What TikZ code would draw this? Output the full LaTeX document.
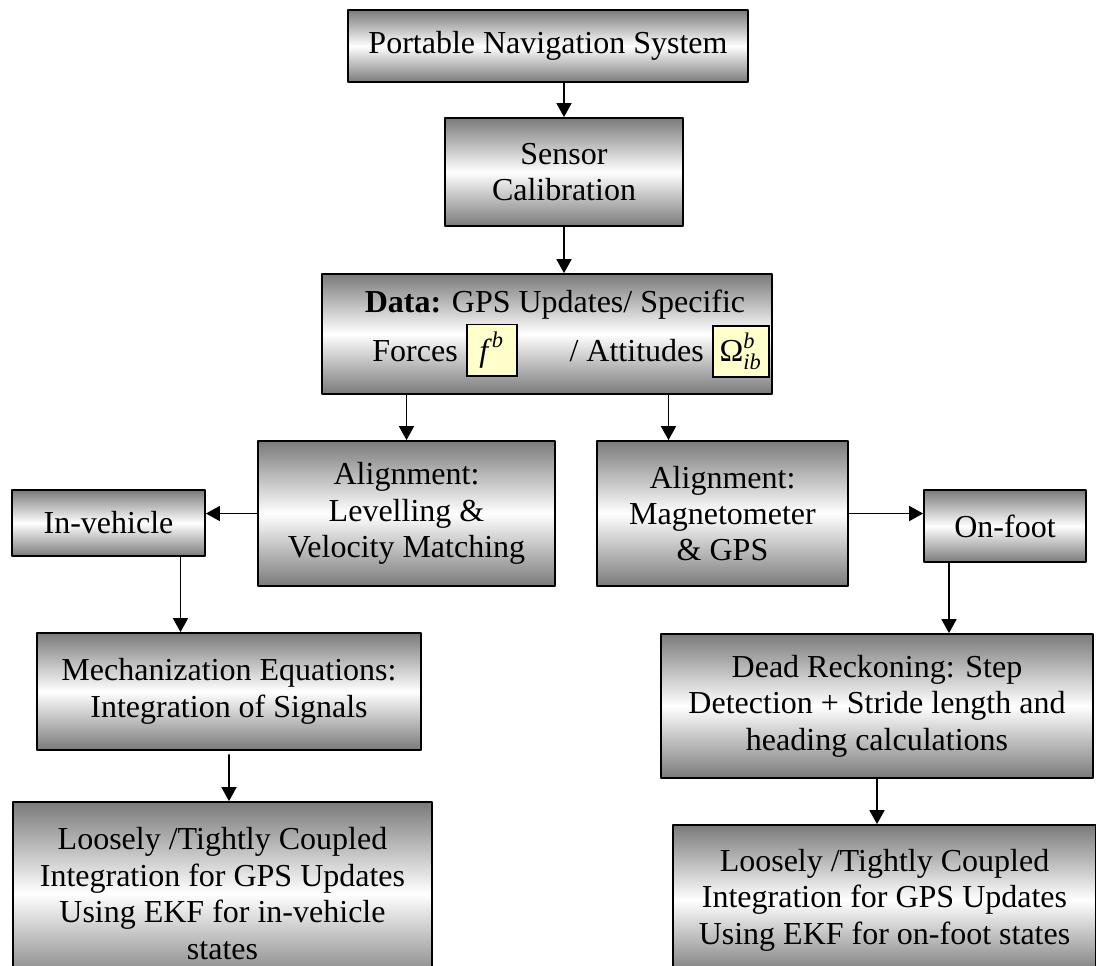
\documentclass[tikz,border=0pt]{standalone}
\usepackage{fontspec}
\usepackage{amsmath}
\setmainfont{Liberation Serif}
\usetikzlibrary{arrows.meta}

\definecolor{hlyellow}{HTML}{FFFFCC}
\newcommand{\hlbox}[1]{{\setlength{\fboxsep}{3pt}\setlength{\fboxrule}{0.9pt}\fcolorbox{black}{hlyellow}{\rule[-4pt]{0pt}{16pt}#1}}}

\begin{document}
\begin{tikzpicture}[x=0.5pt, y=-0.5pt, line cap=round, line join=round,
  blk/.style={draw=black, line width=0.9pt, rectangle, inner sep=0pt,
    align=center, top color=black!52, bottom color=black!52, middle color=white,
    font=\fontsize{16pt}{18.2pt}\selectfont},
  arr/.style={line width=0.85pt, -{Triangle[length=7pt,width=7.5pt]}}]

% Frame (bottom boxes run past the lower edge)
\useasboundingbox (0,0) rectangle (1096,965);
\clip (0,0) rectangle (1096,965);

% --- Top chain ---
\node[blk, minimum width=200pt, minimum height=36pt] (pns) at (548,46) {Portable Navigation System};
\node[blk, minimum width=119pt, minimum height=54pt] (calib) at (564,172) {Sensor\\Calibration};
\node[blk, minimum width=225pt, minimum height=60pt] (data) at (547,334)
  {\hspace*{8pt}\textbf{Data:} GPS Updates/ Specific\\[1pt]
   \hspace*{24pt}Forces \hlbox{$\,\textit{f}^{\,\textit{b}}\,$}\hspace{22pt} / Attitudes \hlbox{$\textrm{Ω}^{\textit{b}}_{\textit{ib}}$}};

% --- Alignment ---
\node[blk, minimum width=148.5pt, minimum height=72.5pt] (alignL) at (406.5,513.5) {Alignment:\\Levelling \&\\Velocity Matching};
\node[blk, minimum width=125.5pt, minimum height=72.5pt] (alignR) at (722.5,513.5) {Alignment:\\Magnetometer\\\& GPS};

% --- Modes ---
\node[blk, minimum width=96.5pt, minimum height=33pt] (vehicle) at (108.5,523) {In-vehicle};
\node[blk, minimum width=81pt, minimum height=36pt] (foot) at (1005,526) {On-foot};

% --- Processing ---
\node[blk, minimum width=192pt, minimum height=58.5pt] (mech) at (229,691.5) {Mechanization Equations:\\Integration of Signals};
\node[blk, minimum width=216pt, minimum height=72pt] (dead) at (877,706) {Dead Reckoning: Step\\Detection + Stride length and\\heading calculations};

% --- Integration ---
\node[blk, minimum width=209.5pt, minimum height=91.5pt] (looseV) at (222.5,893.5) {Loosely /Tightly Coupled\\Integration for GPS Updates\\Using EKF for in-vehicle\\states};
\node[blk, minimum width=211.5pt, minimum height=75pt] (looseF) at (884.5,900) {Loosely /Tightly Coupled\\Integration for GPS Updates\\Using EKF for on-foot states};

% --- Connectors ---
\coordinate (rtop) at ([xshift=-27pt]alignR.north);
\coordinate (vdrop) at ([xshift=36pt]vehicle.south);
\coordinate (fdrop) at ([xshift=-28pt]foot.south);

\draw[arr] (calib.north |- pns.south) -- (calib.north);
\draw[arr] (calib.south) -- (calib.south |- data.north);
\draw[arr] (alignL.north |- data.south) -- (alignL.north);
\draw[arr] (rtop |- data.south) -- (rtop);
\draw[arr] (alignL.west) -- (vehicle.east |- alignL.west);
\draw[arr] (alignR.east) -- (foot.west |- alignR.east);
\draw[arr] (vdrop) -- (vdrop |- mech.north);
\draw[arr] ([yshift=-2pt]mech.south) -- (mech.south |- looseV.north);
\draw[arr] (fdrop) -- (fdrop |- dead.north);
\draw[arr] (dead.south) -- (dead.south |- looseF.north);

\end{tikzpicture}
\end{document}
